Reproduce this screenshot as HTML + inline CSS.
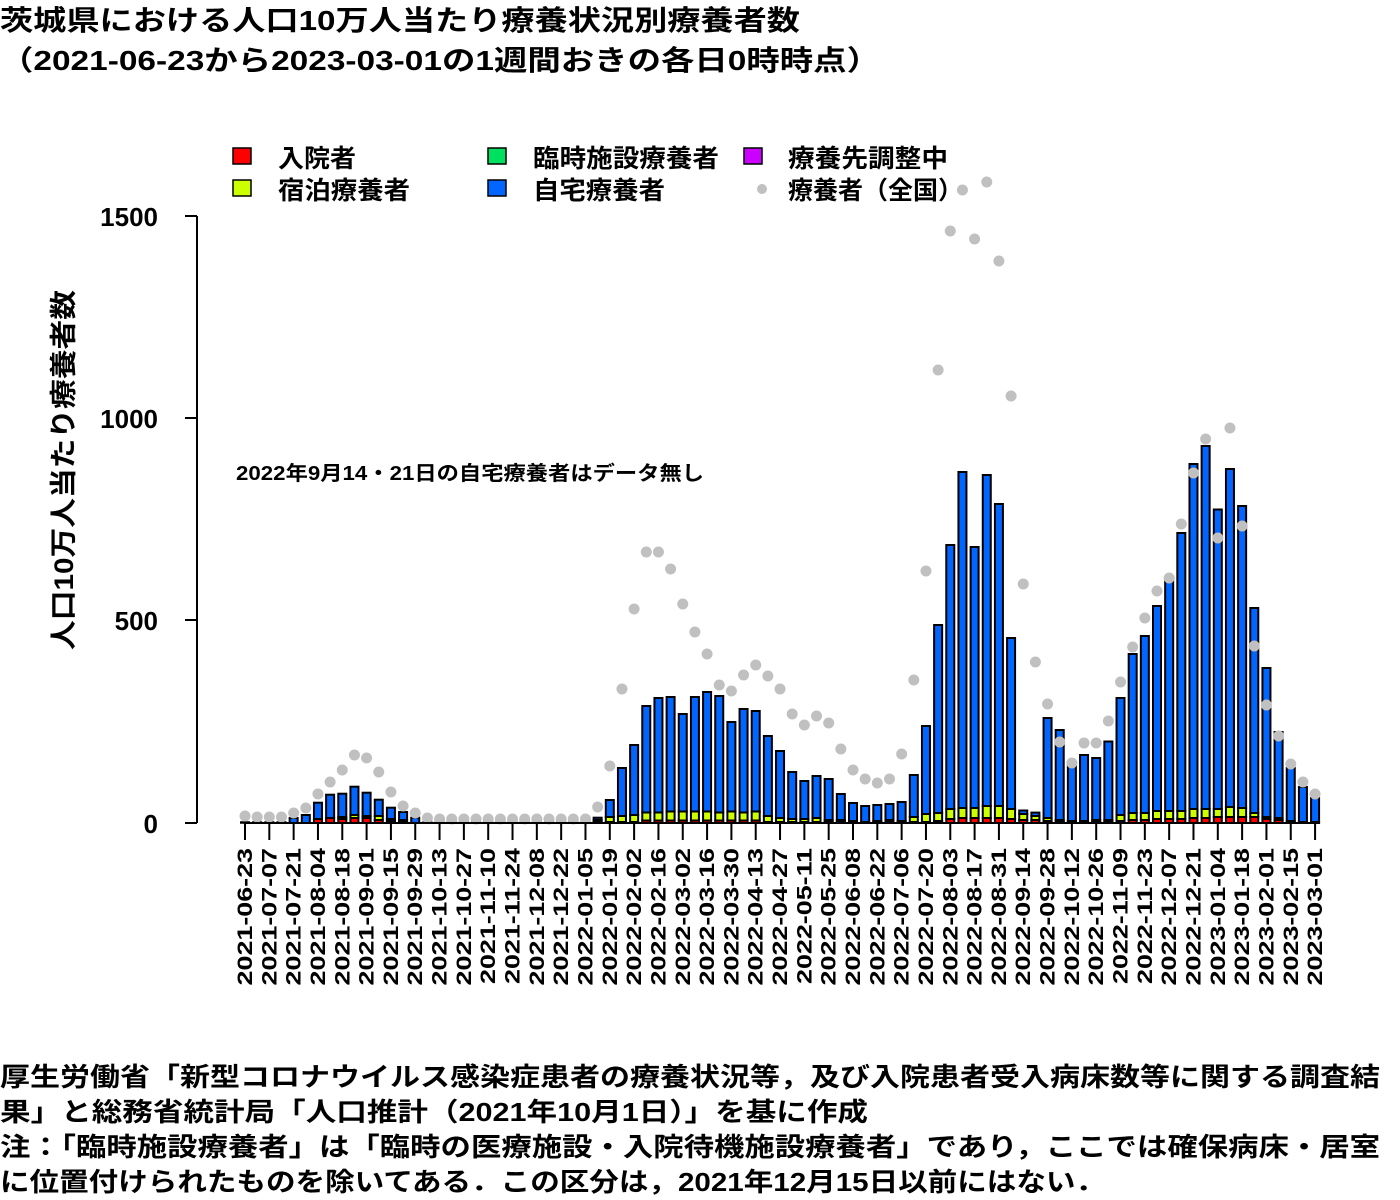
<!DOCTYPE html>
<html><head><meta charset="utf-8"><style>
html,body{margin:0;padding:0;background:#fff;}
svg{display:block;font-family:"Liberation Sans","Noto Sans CJK JP",sans-serif;}
</style></head><body>
<svg id="s" width="1400" height="1200" viewBox="0 0 1400 1200" xmlns="http://www.w3.org/2000/svg">
<g font-weight="bold" fill="#000">
<text x="0" y="30" font-size="28" textLength="800" lengthAdjust="spacingAndGlyphs">茨城県における人口10万人当たり療養状況別療養者数</text>
<text x="0" y="70" font-size="28" textLength="880" lengthAdjust="spacingAndGlyphs">（2021-06-23から2023-03-01の1週間おきの各日0時時点）</text>
</g>
<g id="bars"></g>
<g id="dots" fill="#c0c0c0"></g>
<g stroke="#000" stroke-width="2">
<line x1="197" y1="216" x2="197" y2="823"/>
<line x1="185" y1="216" x2="197" y2="216"/>
<line x1="185" y1="418" x2="197" y2="418"/>
<line x1="185" y1="620" x2="197" y2="620"/>
<line x1="185" y1="823" x2="197" y2="823"/>
</g>
<g id="xt" stroke="#000" stroke-width="2"></g>
<g font-weight="bold" font-size="26" text-anchor="end">
<text x="158" y="226">1500</text>
<text x="158" y="428">1000</text>
<text x="158" y="630">500</text>
<text x="158" y="833">0</text>
</g>
<text transform="translate(73,470) rotate(-90)" text-anchor="middle" font-size="27" font-weight="bold" textLength="360" lengthAdjust="spacingAndGlyphs">人口10万人当たり療養者数</text>
<text x="236" y="480" font-size="20" font-weight="bold" textLength="468" lengthAdjust="spacingAndGlyphs">2022年9月14・21日の自宅療養者はデータ無し</text>
<g stroke="#000" stroke-width="1.5">
<rect x="233" y="148" width="18" height="16" fill="#ff0000"/>
<rect x="233" y="180" width="18" height="16" fill="#ccff00"/>
<rect x="488" y="148" width="18" height="16" fill="#00e060"/>
<rect x="488" y="180" width="18" height="16" fill="#0066ff"/>
<rect x="744" y="148" width="18" height="16" fill="#cc00ff"/>
</g>
<circle cx="762" cy="189" r="5" fill="#c0c0c0"/>
<g font-size="25" font-weight="bold">
<text x="278" y="167" textLength="78" lengthAdjust="spacingAndGlyphs">入院者</text>
<text x="278" y="199" textLength="132" lengthAdjust="spacingAndGlyphs">宿泊療養者</text>
<text x="533" y="167" textLength="186" lengthAdjust="spacingAndGlyphs">臨時施設療養者</text>
<text x="533" y="199" textLength="132" lengthAdjust="spacingAndGlyphs">自宅療養者</text>
<text x="788" y="167" textLength="160" lengthAdjust="spacingAndGlyphs">療養先調整中</text>
<text x="788" y="199" textLength="175" lengthAdjust="spacingAndGlyphs">療養者（全国）</text>
</g>
<g font-size="21" font-weight="bold" text-anchor="end">
<text transform="translate(252,848) rotate(-90) scale(1.28,1)">2021-06-23</text>
<text transform="translate(276.3,848) rotate(-90) scale(1.28,1)">2021-07-07</text>
<text transform="translate(300.6,848) rotate(-90) scale(1.28,1)">2021-07-21</text>
<text transform="translate(325,848) rotate(-90) scale(1.28,1)">2021-08-04</text>
<text transform="translate(349.3,848) rotate(-90) scale(1.28,1)">2021-08-18</text>
<text transform="translate(373.6,848) rotate(-90) scale(1.28,1)">2021-09-01</text>
<text transform="translate(397.9,848) rotate(-90) scale(1.28,1)">2021-09-15</text>
<text transform="translate(422.2,848) rotate(-90) scale(1.28,1)">2021-09-29</text>
<text transform="translate(446.6,848) rotate(-90) scale(1.28,1)">2021-10-13</text>
<text transform="translate(470.9,848) rotate(-90) scale(1.28,1)">2021-10-27</text>
<text transform="translate(495.2,848) rotate(-90) scale(1.28,1)">2021-11-10</text>
<text transform="translate(519.5,848) rotate(-90) scale(1.28,1)">2021-11-24</text>
<text transform="translate(543.8,848) rotate(-90) scale(1.28,1)">2021-12-08</text>
<text transform="translate(568.2,848) rotate(-90) scale(1.28,1)">2021-12-22</text>
<text transform="translate(592.5,848) rotate(-90) scale(1.28,1)">2022-01-05</text>
<text transform="translate(616.8,848) rotate(-90) scale(1.28,1)">2022-01-19</text>
<text transform="translate(641.1,848) rotate(-90) scale(1.28,1)">2022-02-02</text>
<text transform="translate(665.4,848) rotate(-90) scale(1.28,1)">2022-02-16</text>
<text transform="translate(689.8,848) rotate(-90) scale(1.28,1)">2022-03-02</text>
<text transform="translate(714.1,848) rotate(-90) scale(1.28,1)">2022-03-16</text>
<text transform="translate(738.4,848) rotate(-90) scale(1.28,1)">2022-03-30</text>
<text transform="translate(762.7,848) rotate(-90) scale(1.28,1)">2022-04-13</text>
<text transform="translate(787,848) rotate(-90) scale(1.28,1)">2022-04-27</text>
<text transform="translate(811.4,848) rotate(-90) scale(1.28,1)">2022-05-11</text>
<text transform="translate(835.7,848) rotate(-90) scale(1.28,1)">2022-05-25</text>
<text transform="translate(860,848) rotate(-90) scale(1.28,1)">2022-06-08</text>
<text transform="translate(884.3,848) rotate(-90) scale(1.28,1)">2022-06-22</text>
<text transform="translate(908.6,848) rotate(-90) scale(1.28,1)">2022-07-06</text>
<text transform="translate(933,848) rotate(-90) scale(1.28,1)">2022-07-20</text>
<text transform="translate(957.3,848) rotate(-90) scale(1.28,1)">2022-08-03</text>
<text transform="translate(981.6,848) rotate(-90) scale(1.28,1)">2022-08-17</text>
<text transform="translate(1005.9,848) rotate(-90) scale(1.28,1)">2022-08-31</text>
<text transform="translate(1030.2,848) rotate(-90) scale(1.28,1)">2022-09-14</text>
<text transform="translate(1054.6,848) rotate(-90) scale(1.28,1)">2022-09-28</text>
<text transform="translate(1078.9,848) rotate(-90) scale(1.28,1)">2022-10-12</text>
<text transform="translate(1103.2,848) rotate(-90) scale(1.28,1)">2022-10-26</text>
<text transform="translate(1127.5,848) rotate(-90) scale(1.28,1)">2022-11-09</text>
<text transform="translate(1151.8,848) rotate(-90) scale(1.28,1)">2022-11-23</text>
<text transform="translate(1176.2,848) rotate(-90) scale(1.28,1)">2022-12-07</text>
<text transform="translate(1200.5,848) rotate(-90) scale(1.28,1)">2022-12-21</text>
<text transform="translate(1224.8,848) rotate(-90) scale(1.28,1)">2023-01-04</text>
<text transform="translate(1249.1,848) rotate(-90) scale(1.28,1)">2023-01-18</text>
<text transform="translate(1273.4,848) rotate(-90) scale(1.28,1)">2023-02-01</text>
<text transform="translate(1297.8,848) rotate(-90) scale(1.28,1)">2023-02-15</text>
<text transform="translate(1322.1,848) rotate(-90) scale(1.28,1)">2023-03-01</text>
</g>
<g font-size="26" font-weight="bold">
<text x="0" y="1086" textLength="1380" lengthAdjust="spacingAndGlyphs">厚生労働省「新型コロナウイルス感染症患者の療養状況等，及び入院患者受入病床数等に関する調査結</text>
<text x="0" y="1121" textLength="868" lengthAdjust="spacingAndGlyphs">果」と総務省統計局「人口推計（2021年10月1日）」を基に作成</text>
<text x="0" y="1156" textLength="1380" lengthAdjust="spacingAndGlyphs">注：「臨時施設療養者」は「臨時の医療施設・入院待機施設療養者」であり，ここでは確保病床・居室</text>
<text x="0" y="1191" textLength="1105" lengthAdjust="spacingAndGlyphs">に位置付けられたものを除いてある．この区分は，2021年12月15日以前にはない．</text>
</g>
</svg>
<script>
(function(){
var NS="http://www.w3.org/2000/svg";
var base=823;
var tops=[823,823,823,823,818,815,802.7,794.7,793.7,786.7,792.7,799.7,807.7,812,817.7,
823,823,823,823,823,823,823,823,823,823,823,823,823,823,
817.7,800,768,745,706,698,697,714,697,692,696,722,709,711,736,751,772,781,776,779,794,803,806,805,804,802,
775,726,625,545,472,547,475,504,638,810.5,812.6,718,730,766,755,758,741.5,698,654,636,606,581,533,464,446,509.5,469,506,608,668,732,768,787,798];
var dots=[816,817,817,817,813,808,794,782,770,755,758,772,792,806,813,818,
819,819,819,819,819,819,819,819,819,819,819,819,819,
807,766,689,609,552,552,569,604,632,654,685,691,675,665,676,689,714,725,716,723,749,770,779,783,779,754,
680,571,370,231,190,239,182,261,396,584,662,704,742,763,743,743,721,682,647,618,591,578,524,473,439,538,428,526,646,705,736,764,782,794];
var red=[],yel=[];
for(var i=0;i<89;i++){red[i]=0;yel[i]=0;}
var r1=[4,5,4,5,5,3,2,1],y1=[0,0,2,3,2,4,2,2];
for(i=0;i<8;i++){red[6+i]=r1[i];yel[6+i]=y1[i];}
var y2=[2,5,6,7,8,8,9,9,9,9,8,9,8,9,6,4,3,3,4,2,2,1,0,1,2,1];
for(i=0;i<26;i++){yel[29+i]=y2[i];red[29+i]=(i>=4&&i<=13)?2.5:1;}
var y3=[5,8,8,10,10,10,12,12,10,6,4,3,2,1,1,2,2,6,7,7,8,8,8,9,9,8,10,9,4,2,2,0,0,0];
var r3=[1,1,2,4,5,5,5,5,4,3,3,2,1,1,1,1,1,2,3,3,4,4,4,5,5,6,6,6,6,4,3,2,1,1];
for(i=0;i<34;i++){yel[55+i]=y3[i];red[55+i]=r3[i];}
var g=document.getElementById("bars");
function rect(x,y,h,c){
 if(h<=0)return;
 var r=document.createElementNS(NS,"rect");
 r.setAttribute("x",x);r.setAttribute("y",y);r.setAttribute("width",8);r.setAttribute("height",h);
 r.setAttribute("fill",c);r.setAttribute("stroke","#000");r.setAttribute("stroke-width","2");
 g.appendChild(r);
}
for(i=0;i<89;i++){
 var cx=245+12.16*i;
 var total=base-tops[i];
 if(total<=0.5){
   var l=document.createElementNS(NS,"line");
   l.setAttribute("x1",cx-5);l.setAttribute("x2",cx+5);l.setAttribute("y1",base-0.5);l.setAttribute("y2",base-0.5);
   l.setAttribute("stroke","#000");l.setAttribute("stroke-width","2.5");g.appendChild(l);
   continue;
 }
 var rh=Math.min(red[i],total), yh=Math.min(yel[i],total-rh), bh=total-rh-yh;
 var x=cx-4, y=base;
 y-=rh; rect(x,y,rh,"#ff0000");
 y-=yh; rect(x,y,yh,"#ccff00");
 y-=bh; rect(x,y,bh,"#0066ff");
}
var d=document.getElementById("dots");
for(i=0;i<89;i++){
 var c=document.createElementNS(NS,"circle");
 c.setAttribute("cx",245+12.16*i);c.setAttribute("cy",dots[i]);c.setAttribute("r",5.5);
 d.appendChild(c);
}
var xt=document.getElementById("xt");
var ax=document.createElementNS(NS,"line");
ax.setAttribute("x1",245);ax.setAttribute("x2",1315);ax.setAttribute("y1",823);ax.setAttribute("y2",823);
xt.appendChild(ax);
for(var k=0;k<45;k++){
 var t=document.createElementNS(NS,"line");var xx=245+24.32*k;
 t.setAttribute("x1",xx);t.setAttribute("x2",xx);t.setAttribute("y1",823);t.setAttribute("y2",840);
 xt.appendChild(t);
}
})();
</script>
</body></html>
